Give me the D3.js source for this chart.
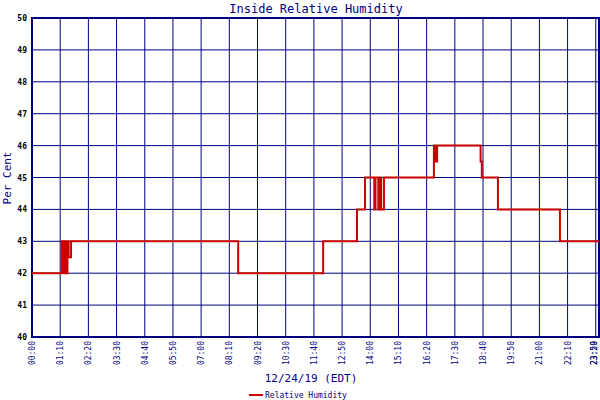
<!DOCTYPE html>
<html><head><meta charset="utf-8">
<script src="https://cdn.jsdelivr.net/npm/d3@7"></script>
<style>body{margin:0;background:#fff}text{font-family:"DejaVu Sans Mono",monospace}</style>
</head><body>
<svg id="chart" width="600" height="400"></svg>
<script>
// minutes since midnight, humidity (step after)
const times = [0, 74, 76, 78, 80, 82, 83, 85, 86, 88, 91, 97, 512, 723, 807, 827, 850, 853, 860, 864, 867, 874, 998, 1003, 1006, 1114, 1117, 1157, 1311, 1408];
const values = [42, 43, 42, 43, 42, 43, 42, 43, 42, 43, 42.5, 43, 42, 43, 44, 45, 44, 45, 44, 45, 44, 45, 46, 45.5, 46, 45.5, 45, 44, 43, 43];
const tickMinutes = [0, 70, 140, 210, 280, 350, 420, 490, 560, 630, 700, 770, 840, 910, 980, 1050, 1120, 1190, 1260, 1330, 1400, 1408];
const tickLabels = ["00:00","01:10","02:20","03:30","04:40","05:50","07:00","08:10","09:20","10:30","11:40","12:50","14:00","15:10","16:20","17:30","18:40","19:50","21:00","22:10","23:20","23:59"];
const yTicks = d3.range(40, 51);

const svg = d3.select("#chart");
const blue = "#00007f", red = "#cc0000";
const x = d3.scaleLinear().domain([0, 1408]).range([32, 599]);
const y = d3.scaleLinear().domain([40, 50]).range([337, 18]);

const g = svg.append("g");
g.selectAll(".vg").data(tickMinutes).join("line")
  .attr("x1", d => x(d)).attr("x2", d => x(d)).attr("y1", y(50)).attr("y2", y(40))
  .attr("stroke", blue).attr("stroke-width", 1);
g.selectAll(".hg").data(yTicks).join("line")
  .attr("x1", x(0)).attr("x2", x(1408)).attr("y1", d => y(d)).attr("y2", d => y(d))
  .attr("stroke", blue).attr("stroke-width", 1);
g.append("rect").attr("x", x(0)).attr("y", y(50)).attr("width", x(1408) - x(0)).attr("height", y(40) - y(50))
  .attr("fill", "none").attr("stroke", blue).attr("stroke-width", 2);

const pts = times.map((t, i) => [t, values[i]]);
svg.append("path").datum(pts)
  .attr("d", d3.line().x(d => x(d[0])).y(d => y(d[1])).curve(d3.curveStepAfter))
  .attr("fill", "none").attr("stroke", red).attr("stroke-width", 2);

svg.selectAll(".yl").data(yTicks).join("text")
  .attr("x", 27).attr("y", d => y(d) + 3).attr("text-anchor", "end")
  .attr("font-size", 8).attr("font-weight", "bold").attr("fill", "#000").text(d => d);

svg.selectAll(".xl").data(tickMinutes).join("text")
  .attr("transform", d => `translate(${Math.min(x(d) + 3, 597)},${341}) rotate(-90)`)
  .attr("text-anchor", "end").attr("font-size", 8).attr("fill", blue)
  .text((d, i) => tickLabels[i]);

svg.append("text").attr("x", 316).attr("y", 13).attr("text-anchor", "middle")
  .attr("font-size", 12).attr("fill", blue).text("Inside Relative Humidity");
svg.append("text").attr("transform", "translate(11,178) rotate(-90)").attr("text-anchor", "middle")
  .attr("font-size", 11).attr("fill", blue).text("Per Cent");
svg.append("text").attr("x", 311).attr("y", 382).attr("text-anchor", "middle")
  .attr("font-size", 11).attr("fill", blue).text("12/24/19 (EDT)");
svg.append("line").attr("x1", 249).attr("x2", 263).attr("y1", 395).attr("y2", 395)
  .attr("stroke", red).attr("stroke-width", 2);
svg.append("text").attr("x", 265).attr("y", 398).attr("font-size", 8).attr("fill", blue).text("Relative Humidity");
</script>
</body></html>
